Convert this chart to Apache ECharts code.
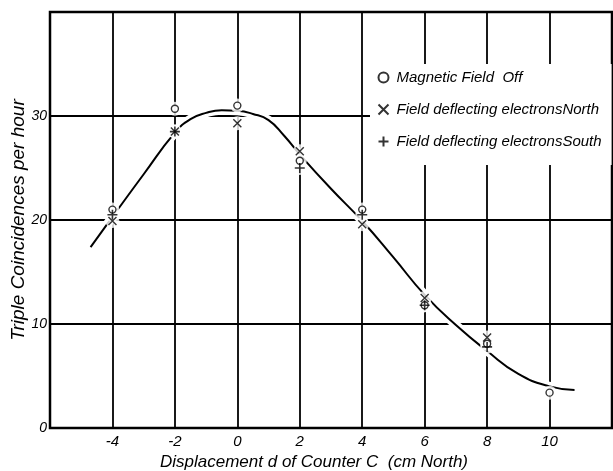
<!DOCTYPE html>
<html>
<head>
<meta charset="utf-8">
<script src="https://cdn.jsdelivr.net/npm/echarts@6/dist/echarts.min.js"></script>
<style>
html,body{margin:0;padding:0;background:#fff;}
#c{width:613px;height:471px;}
</style>
</head>
<body>
<div id="c"></div>
<script>
// ---- data ----
var seriesNames = ['Magnetic Field  Off', 'Field deflecting electronsNorth', 'Field deflecting electronsSouth'];
var fieldOff   = [[-4, 21.0], [-2, 30.7], [0, 31.0], [2, 25.7], [4, 21.0], [6, 11.8], [8, 8.1], [10, 3.4]];
var fieldNorth = [[-4, 19.9], [-2, 28.5], [0, 29.3], [2, 26.6], [4, 19.6], [6, 12.5], [8, 8.7]];
var fieldSouth = [[-4, 20.5], [-2, 28.5], [2, 25.0], [4, 20.5], [6, 11.8], [8, 7.8]];
var curveX = [-4.7, -4, -3, -2, -1.5, -1, -0.5, 0, 0.5, 1, 1.5, 2, 3, 4, 5, 6, 7, 8, 9, 10, 10.8];
var curveY = [17.4, 20.3, 24.4, 28.4, 29.7, 30.3, 30.55, 30.5, 30.2, 29.6, 28.1, 26.3, 23.0, 19.9, 16.4, 12.8, 9.9, 7.4, 5.2, 4.0, 3.65];
var xTickLabels = ['-4', '-2', '0', '2', '4', '6', '8', '10'];
var yTickLabels = ['0', '10', '20', '30'];
var xTitle = 'Displacement d of Counter C  (cm North)';
var yTitle = 'Triple Coincidences per hour';

var curve = curveX.map(function (x, i) { return [x, curveY[i]]; });
var wide = "'Liberation Sans', 'DejaVu Sans', sans-serif";
var BLACK = '#000';

function halo(data) {
  return { type: 'scatter', data: data, symbol: 'circle', symbolSize: 14, silent: true,
    itemStyle: { color: '#fff', borderWidth: 0 }, z: 4, emphasis: { disabled: true } };
}

var chart = echarts.init(document.getElementById('c'), null, { renderer: 'canvas' });
chart.setOption({
  backgroundColor: '#fff',
  animation: false,
  grid: { left: 50, right: 1, top: 12, bottom: 43, show: true, borderColor: BLACK, borderWidth: 2.5,
    backgroundColor: 'transparent', containLabel: false, outerBoundsMode: 'none' },
  xAxis: {
    type: 'value', min: -6, max: 12, interval: 2,
    axisLine: { show: false }, axisTick: { show: false },
    splitLine: { show: true, lineStyle: { color: BLACK, width: 1.8 } },
    axisLabel: { color: BLACK, fontFamily: wide, fontStyle: 'italic', fontSize: 15, margin: 6,
      formatter: function (v) { var s = String(v); return xTickLabels.indexOf(s) >= 0 ? s : ''; } },
    name: xTitle, nameLocation: 'middle', nameGap: 25,
    nameTextStyle: { color: BLACK, fontFamily: wide, fontStyle: 'italic', fontSize: 17, padding: [0, 34, 0, 0] }
  },
  yAxis: {
    type: 'value', min: 0, max: 40, interval: 10,
    axisLine: { show: false }, axisTick: { show: false },
    splitLine: { show: true, lineStyle: { color: BLACK, width: 1.8 } },
    axisLabel: { color: BLACK, fontFamily: wide, fontStyle: 'italic', fontSize: 14, margin: 3,
      formatter: function (v) { var s = String(v); return yTickLabels.indexOf(s) >= 0 ? s : ''; } },
    name: yTitle, nameLocation: 'middle', nameGap: 22, nameMoveOverlap: false,
    nameTextStyle: { color: BLACK, fontFamily: wide, fontStyle: 'italic', fontSize: 19 }
  },
  legend: {
    data: seriesNames, orient: 'vertical', left: 370, top: 64,
    backgroundColor: '#fff', padding: [4, 10, 14, 6], itemGap: 13, itemWidth: 10, itemHeight: 10,
    textStyle: { color: BLACK, fontFamily: wide, fontStyle: 'italic', fontSize: 15, lineHeight: 19, padding: [0, 0, 0, 3] },
    z: 20
  },
  series: [
    { type: 'line', data: curve, smooth: 0.5, symbol: 'none', silent: true, z: 2,
      lineStyle: { color: '#fff', width: 9 } },
    { type: 'line', data: curve, smooth: 0.5, symbol: 'none', silent: true, z: 3,
      lineStyle: { color: BLACK, width: 2 } },
    halo(fieldOff), halo(fieldNorth), halo(fieldSouth),
    { name: seriesNames[0], type: 'scatter', data: fieldOff, symbol: 'circle', symbolSize: 7, z: 5,
      itemStyle: { color: '#fff', borderColor: BLACK, borderWidth: 1.4 } },
    { name: seriesNames[1], type: 'scatter', data: fieldNorth, symbol: 'path://M-1,-1L1,1M1,-1L-1,1', symbolSize: 8, z: 5,
      itemStyle: { color: 'none', borderColor: BLACK, borderWidth: 1.4 } },
    { name: seriesNames[2], type: 'scatter', data: fieldSouth, symbol: 'path://M0,-1L0,1M-1,0L1,0', symbolSize: 10, z: 5,
      itemStyle: { color: 'none', borderColor: BLACK, borderWidth: 1.6 } }
  ]
});
</script>
</body>
</html>
